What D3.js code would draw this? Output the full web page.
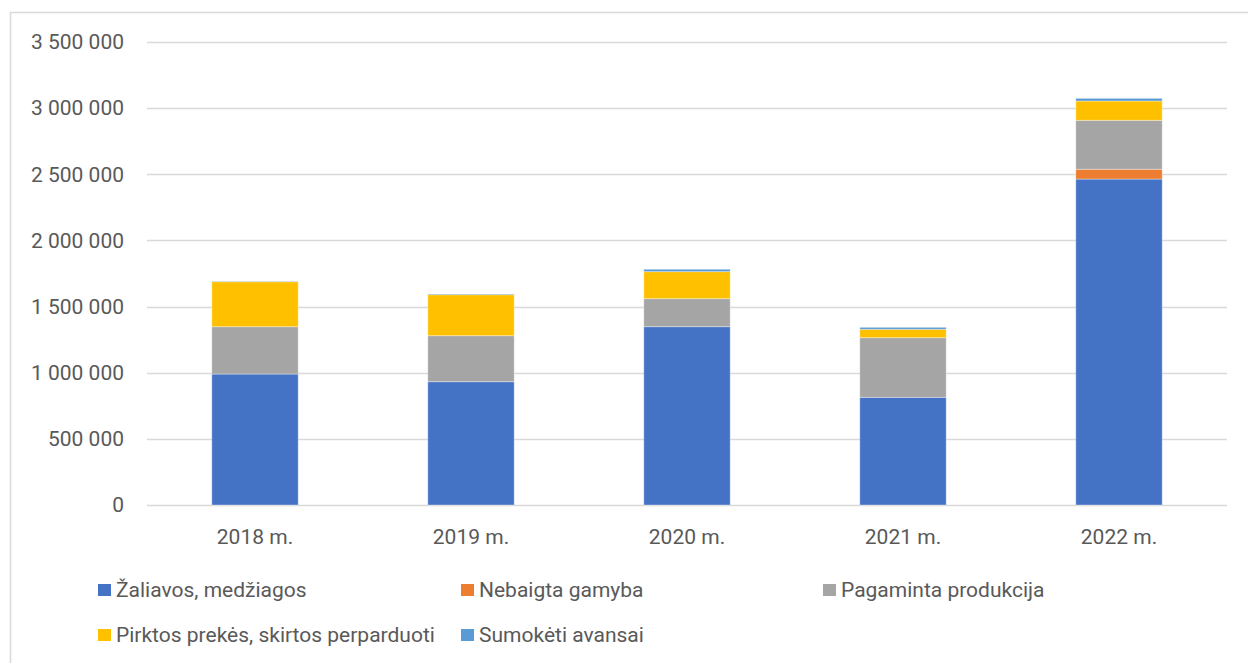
<!DOCTYPE html>
<html>
<head>
<meta charset="utf-8">
<script src="https://cdn.jsdelivr.net/npm/d3@7"></script>
<style>
  body { margin: 0; background: #fff; }
  text { font-family: Roboto, "Liberation Sans", sans-serif; fill: #595959; }
</style>
</head>
<body>
<svg id="chart" width="1248" height="663"></svg>
<script>
// years on x
var years = ["2018 m.", "2019 m.", "2020 m.", "2021 m.", "2022 m."];
// stacked series, bottom to top
var seriesNames = ["Žaliavos, medžiagos", "Nebaigta gamyba", "Pagaminta produkcija",
  "Pirktos prekės, skirtos perparduoti", "Sumokėti avansai"];
var zaliavos  = [990000, 932000, 1348000, 814000, 2464000];
var nebaigta  = [0, 0, 0, 0, 74000];
var pagaminta = [358000, 348000, 212000, 451000, 370000];
var pirktos   = [340000, 310000, 204000, 63000, 146000];
var avansai   = [3000, 5000, 18000, 15000, 20000];
var yTicks = [0, 500000, 1000000, 1500000, 2000000, 2500000, 3000000, 3500000];
var colors = ["#4472c4", "#ed7d31", "#a5a5a5", "#ffc000", "#5b9bd5"];

var allSeries = [zaliavos, nebaigta, pagaminta, pirktos, avansai];
var rows = years.map(function(y, i) {
  var r = { year: y };
  seriesNames.forEach(function(n, k) { r[n] = allSeries[k][i]; });
  return r;
});

var svg = d3.select("#chart");

// outer frame (chart area border)
svg.append("path")
  .attr("d", "M10.5,663 V12.5 H1248")
  .attr("fill", "none")
  .attr("stroke", "#d9d9d9")
  .attr("stroke-width", 1.5);

var pLeft = 147, pRight = 1227, pTop = 42, pBottom = 505;

var x = d3.scaleBand().domain(years).range([pLeft, pRight]).paddingInner(0.6).paddingOuter(0.3);
var y = d3.scaleLinear().domain([0, 3500000]).range([pBottom, pTop]);

var fmt = function(v) { return d3.format(",")(v).replace(/,/g, " "); };

// gridlines
svg.append("g").selectAll("line").data(yTicks).enter().append("line")
  .attr("x1", pLeft).attr("x2", pRight)
  .attr("y1", function(d) { return Math.round(y(d)) + 0.5; })
  .attr("y2", function(d) { return Math.round(y(d)) + 0.5; })
  .attr("stroke", "#d9d9d9").attr("stroke-width", 1.5);

// y labels
svg.append("g").selectAll("text").data(yTicks).enter().append("text")
  .attr("x", 124)
  .attr("y", function(d) { return y(d); })
  .attr("dy", "0.35em")
  .attr("text-anchor", "end")
  .style("font-size", "21px")
  .text(fmt);

// stacks
var stack = d3.stack().keys(seriesNames)(rows);
svg.append("g").selectAll("g").data(stack).enter().append("g")
  .attr("fill", function(d, i) { return colors[i]; })
  .selectAll("rect").data(function(d) { return d; }).enter().append("rect")
  .attr("x", function(d) { return x(d.data.year); })
  .attr("width", x.bandwidth())
  .attr("y", function(d) { return y(d[1]); })
  .attr("height", function(d) { return Math.max(0, y(d[0]) - y(d[1])); })
  .attr("stroke", "#ffffff").attr("stroke-opacity", 0.35).attr("stroke-width", 1);

// x labels
svg.append("g").selectAll("text").data(years).enter().append("text")
  .attr("x", function(d) { return x(d) + x.bandwidth() / 2; })
  .attr("y", 537)
  .attr("dy", "0.35em")
  .attr("text-anchor", "middle")
  .style("font-size", "21px")
  .text(function(d) { return d; });

// legend
var legendPos = [[98, 590], [461, 590], [823, 590], [98, 635], [461, 635]];
var lg = svg.append("g").selectAll("g").data(seriesNames).enter().append("g")
  .attr("transform", function(d, i) { return "translate(" + legendPos[i][0] + "," + legendPos[i][1] + ")"; });
lg.append("rect").attr("x", 0).attr("y", -6).attr("width", 13).attr("height", 12)
  .attr("fill", function(d, i) { return colors[i]; });
lg.append("text").attr("x", 18).attr("dy", "0.35em")
  .style("font-size", "21px")
  .text(function(d) { return d; });
</script>
</body>
</html>
